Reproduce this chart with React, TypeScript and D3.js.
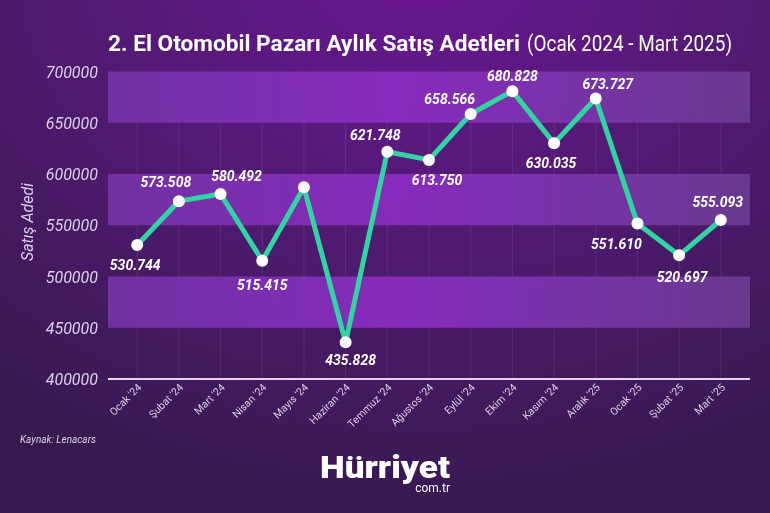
import React from "react";
import * as d3 from "d3";

const months = ["Ocak '24", "Şubat '24", "Mart '24", "Nisan '24", "Mayıs '24", "Haziran '24", "Temmuz '24", "Ağustos '24", "Eylül '24", "Ekim '24", "Kasım '24", "Aralık '25", "Ocak '25", "Şubat '25", "Mart '25"];
const sales = [530744, 573508, 580492, 515415, 587000, 435828, 621748, 613750, 658566, 680828, 630035, 673727, 551610, 520697, 555093];
const showLabel = [true, true, true, true, false, true, true, true, true, true, true, true, true, true, true];
const yTicks = [400000, 450000, 500000, 550000, 600000, 650000, 700000];
const bandRanges: [number, number][] = [[650000, 700000], [550000, 600000], [450000, 500000]];
// label placement offsets (dx, dy) relative to point
const labelOffsets: [number, number][] = [[-2, 25], [-13, -14], [16, -13], [0, 29], [0, 0], [5, 23], [-12, -12], [8, 25], [-21, -10], [0, -10], [-3, 25], [12, -9], [-21, 25], [3, 27], [-3, -13]];

const W = 770;
const H = 513;
const left = 108;
const right = 750;
const top = 71.5;
const bottom = 379;

export default function App() {
  const x = d3.scalePoint<string>().domain(months).range([left, right]).padding(0.7);
  const y = d3.scaleLinear().domain([400000, 700000]).range([bottom, top]);
  const line = d3
    .line<number>()
    .x((_, i) => x(months[i]) as number)
    .y((d) => y(d));
  const fmt = (v: number) => d3.format(",")(v).replace(/,/g, ".");
  const font = "Roboto, 'Liberation Sans', sans-serif";

  return (
    <svg width={W} height={H} style={{ position: "fixed", left: 0, top: 0 }} fontFamily={font}>
      <defs>
        <radialGradient id="bg" cx="420" cy="-40" r="620" gradientUnits="userSpaceOnUse" gradientTransform="matrix(1.15 0 0 0.9 -63 0)">
          <stop offset="0" stopColor="#6c1694" />
          <stop offset="0.45" stopColor="#521a74" />
          <stop offset="1" stopColor="#37194f" />
        </radialGradient>
        <linearGradient id="band" x1={left} x2={right} y1="0" y2="0" gradientUnits="userSpaceOnUse">
          <stop offset="0" stopColor="#7433a6" />
          <stop offset="0.45" stopColor="#8a2cc2" />
          <stop offset="1" stopColor="#6a3c93" />
        </linearGradient>
      </defs>
      <rect x={0} y={0} width={W} height={H} fill="url(#bg)" />

      {/* title */}
      <text x={108} y={51} fill="#ffffff" fontSize={22} fontWeight={700} textLength={412} lengthAdjust="spacingAndGlyphs">
        2. El Otomobil Pazarı Aylık Satış Adetleri
      </text>
      <text x={527} y={51} fill="#ffffff" fontSize={22} fontWeight={400} textLength={205} lengthAdjust="spacingAndGlyphs">
        (Ocak 2024 - Mart 2025)
      </text>

      {/* vertical grid */}
      {months.map((m) => (
        <line key={m} x1={x(m)} x2={x(m)} y1={top} y2={bottom} stroke="#ffffff" strokeOpacity={0.09} strokeWidth={1} />
      ))}

      {/* bands */}
      {bandRanges.map(([a, b]) => (
        <rect key={a} x={left} width={right - left} y={y(b)} height={y(a) - y(b)} fill="url(#band)" fillOpacity={0.93} />
      ))}

      {/* y ticks */}
      {yTicks.map((t) => (
        <text key={t} x={98} y={y(t) + 6} textAnchor="end" fill="#dccfe9" fontSize={16} fontStyle="italic">
          {t}
        </text>
      ))}
      <text transform={`translate(33,${222}) rotate(-90)`} textAnchor="middle" fill="#dccfe9" fontSize={16} fontStyle="italic">
        Satış Adedi
      </text>

      {/* x axis */}
      <line x1={left} x2={right} y1={bottom} y2={bottom} stroke="#e6d2f2" strokeWidth={2} />
      {months.map((m) => (
        <text key={m} transform={`translate(${(x(m) as number) + 5},${bottom + 9}) rotate(-45)`} textAnchor="end" fill="#dccfe9" fontSize={10.5}>
          {m}
        </text>
      ))}

      {/* line */}
      <path d={line(sales) || ""} fill="none" stroke="#2fd6a2" strokeWidth={5} strokeLinejoin="round" />
      {sales.map((v, i) => (
        <circle key={i} cx={x(months[i])} cy={y(v)} r={6} fill="#ffffff" />
      ))}
      {sales.map((v, i) =>
        showLabel[i] ? (
          <text
            key={"l" + i}
            x={(x(months[i]) as number) + labelOffsets[i][0]}
            y={y(v) + labelOffsets[i][1]}
            textAnchor="middle"
            fill="#ffffff"
            fontSize={14}
            fontWeight={700}
            fontStyle="italic"
          >
            {fmt(v)}
          </text>
        ) : null
      )}

      {/* source */}
      <text x={20} y={443} fill="#dccfe9" fontSize={10} fontStyle="italic">
        Kaynak: Lenacars
      </text>

      {/* logo */}
      <text x={320} y={478} fill="#ffffff" fontSize={32} fontWeight={900} fontFamily="Roboto, sans-serif" textLength={130} lengthAdjust="spacingAndGlyphs">
        Hürriyet
      </text>
      <text x={450} y={492} textAnchor="end" fill="#ffffff" fontSize={12}>
        com.tr
      </text>
    </svg>
  );
}
